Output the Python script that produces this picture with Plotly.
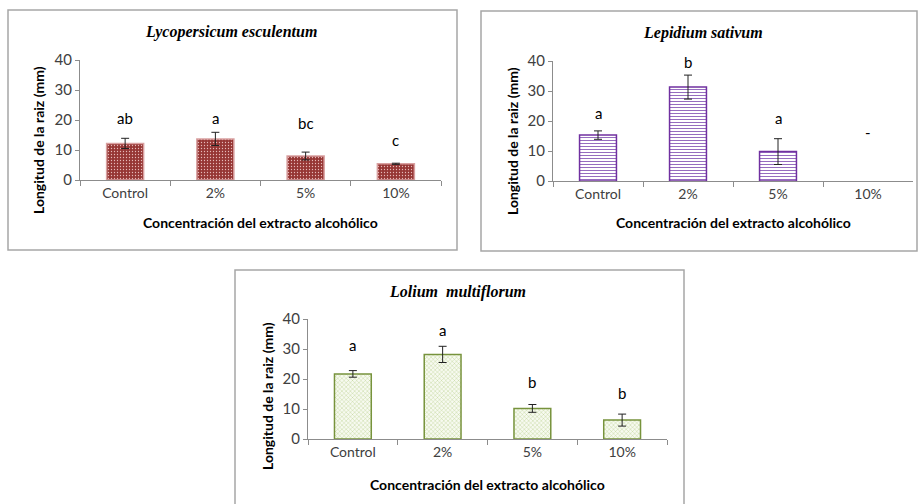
import plotly.graph_objects as go

# data
categories = ["Control", "2%", "5%", "10%"]

lyco_mean = [12.2, 13.7, 8.0, 5.4]
lyco_err = [1.7, 2.2, 1.3, 0.2]
lyco_letters = ["ab", "a", "bc", "c"]
lyco_letter_y = [20.7, 20.7, 19.0, 13.5]

# no root growth at 10% ("-")
lepi_mean = [15.3, 31.3, 9.8, None]
lepi_err = [1.4, 4.0, 4.3, None]
lepi_letters = ["a", "b", "a", "-"]
lepi_letter_y = [22.6, 39.8, 20.9, 16.4]

loli_mean = [21.7, 28.2, 10.2, 6.3]
loli_err = [1.1, 2.7, 1.3, 2.0]
loli_letters = ["a", "a", "b", "b"]
loli_letter_y = [31.3, 36.5, 19.1, 15.5]

W, H = 918, 504
BODY = "Lato, 'Open Sans', sans-serif"
TITLE_FONT = "'Liberation Serif', 'DejaVu Serif', serif"
AXIS_GREY = "#8c8c8c"


def px_x(v):
    return v / W


def px_y(v):
    return 1 - v / H


# panel layout in pixels: frame box, plot area, title position
panels = [
    dict(name="Lycopersicum esculentum", mean=lyco_mean, err=lyco_err,
         letters=lyco_letters, letter_y=lyco_letter_y,
         frame=(8, 10, 457, 250), plot=(80, 60, 441, 180), title_y=32, ytitle_x=38, ytitle_y=140, xtitle_y=222,
         fill="#963634", line="#d9a0a0", pat=dict(shape=".", fgcolor="#e6b9b8", bgcolor="#963634",
                                                   size=3, solidity=0.15, fillmode="replace")),
    dict(name="Lepidium sativum", mean=lepi_mean, err=lepi_err,
         letters=lepi_letters, letter_y=lepi_letter_y,
         frame=(481, 11, 917, 251), plot=(553, 61, 913, 181), title_y=33, ytitle_x=512, ytitle_y=141, xtitle_y=222,
         fill="white", line="#7030a0", pat=dict(shape="-", fgcolor="#8a5cb8", bgcolor="white",
                                                size=3, solidity=0.3, fillmode="replace")),
    dict(name="Lolium  multiflorum", mean=loli_mean, err=loli_err,
         letters=loli_letters, letter_y=loli_letter_y,
         frame=(235, 270, 684, 520), plot=(308, 319, 667, 439), title_y=292, ytitle_x=267, ytitle_y=396, xtitle_y=484,
         fill="white", line="#77933c", pat=dict(shape="x", fgcolor="#a9c472", bgcolor="#f7faf0",
                                                size=3, solidity=0.2, fillmode="replace")),
]

fig = go.Figure()
shapes = []
annotations = []

for i, p in enumerate(panels):
    n = "" if i == 0 else str(i + 1)
    xa, ya = "x" + n, "y" + n
    x0, y0, x1, y1 = p["plot"]

    fig.add_trace(go.Bar(
        x=categories, y=p["mean"], xaxis=xa, yaxis=ya, width=0.41,
        marker=dict(color=p["fill"], line=dict(color=p["line"], width=1.5), pattern=p["pat"]),
        error_y=dict(type="data", array=p["err"], visible=True, color="#222222", thickness=1, width=4),
        showlegend=False, hoverinfo="x+y",
    ))

    fig.update_layout(**{
        "xaxis" + n: dict(domain=[px_x(x0), px_x(x1)], anchor=ya, range=[-0.5, 3.5], automargin=False,
                          showline=True, linecolor=AXIS_GREY, linewidth=1, ticks="outside",
                          tickson="boundaries", ticklen=5, tickcolor=AXIS_GREY, showgrid=False,
                          tickfont=dict(family=BODY, size=14, color="#404040"), fixedrange=True),
        "yaxis" + n: dict(domain=[px_y(y1), px_y(y0)], anchor=xa, range=[0, 40], dtick=10, automargin=False,
                          showline=True, linecolor=AXIS_GREY, linewidth=1, ticks="outside",
                          ticklen=4, tickcolor=AXIS_GREY, showgrid=False, zeroline=False,
                          tickfont=dict(family=BODY, size=15, color="#404040"), fixedrange=True),
    })

    fx0, fy0, fx1, fy1 = p["frame"]
    shapes.append(dict(type="rect", xref="paper", yref="paper",
                       x0=px_x(fx0), x1=px_x(fx1), y0=px_y(fy1), y1=px_y(fy0),
                       line=dict(color="#a6a6a6", width=1.5), layer="below"))

    annotations.append(dict(text="<b><i>" + p["name"] + "</i></b>", xref="paper", yref="paper",
                            x=px_x((x0 + x1) / 2 - 30), y=px_y(p["title_y"]), showarrow=False,
                            xanchor="center", yanchor="middle",
                            font=dict(family=TITLE_FONT, size=16, color="black")))
    annotations.append(dict(text="<b>Longitud de la raiz (mm)</b>", xref="paper", yref="paper",
                            x=px_x(p["ytitle_x"]), y=px_y(p["ytitle_y"]), textangle=-90, showarrow=False,
                            xanchor="center", yanchor="middle",
                            font=dict(family=BODY, size=14, color="black")))
    annotations.append(dict(text="<b>Concentración del extracto alcohólico</b>", xref="paper", yref="paper",
                            x=px_x((x0 + x1) / 2), y=px_y(p["xtitle_y"]), showarrow=False,
                            xanchor="center", yanchor="middle",
                            font=dict(family=BODY, size=14, color="black")))
    for c, t, ly in zip(categories, p["letters"], p["letter_y"]):
        annotations.append(dict(text=t, xref=xa, yref=ya, x=c, y=ly, showarrow=False,
                                xanchor="center", yanchor="middle",
                                font=dict(family=BODY, size=15, color="black")))

fig.update_layout(
    width=W, height=H, margin=dict(l=0, r=0, t=0, b=0, autoexpand=False),
    paper_bgcolor="white", plot_bgcolor="white",
    shapes=shapes, annotations=annotations,
)

# pin the 918x504 figure to the window corner so the page never overflows
pin = ("var gd=document.getElementById('{plot_id}');"
       "gd.style.position='fixed';gd.style.top='0';gd.style.left='0';"
       "document.body.style.margin='0';document.documentElement.style.overflow='hidden';")
fig.write_html("out.html", config={"displayModeBar": False}, post_script=pin)
